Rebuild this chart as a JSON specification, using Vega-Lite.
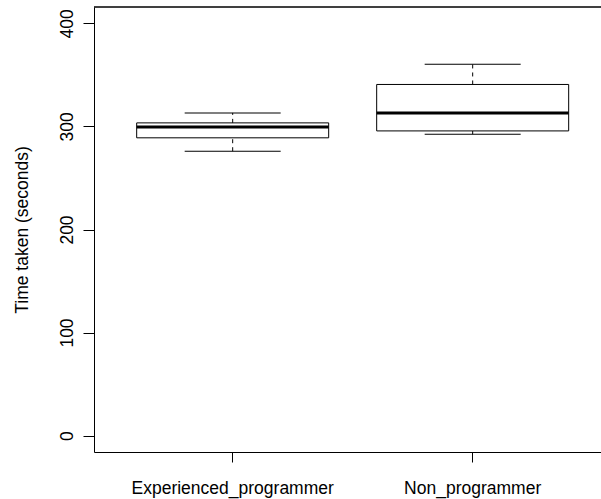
{
  "$schema": "https://vega.github.io/schema/vega-lite/v6.json",
  "width": 507,
  "height": 445,
  "autosize": {"type": "none"},
  "padding": {"left": 94, "top": 7, "right": 0, "bottom": 47},
  "background": "white",
  "config": {
    "view": {"stroke": null},
    "font": "Liberation Sans",
    "axis": {
      "labelFont": "Liberation Sans",
      "titleFont": "Liberation Sans",
      "labelFontSize": 17.5,
      "titleFontSize": 17.5,
      "labelColor": "black",
      "titleColor": "black",
      "titleFontWeight": "normal",
      "domainColor": "black",
      "tickColor": "black",
      "domainWidth": 1,
      "tickWidth": 1,
      "labelLimit": 0,
      "grid": false
    }
  },
  "data": {
    "values": [
      {"group": "Experienced_programmer", "lower": 276, "q1": 289, "median": 299.6, "q3": 303.5, "upper": 313.2},
      {"group": "Non_programmer", "lower": 292.5, "q1": 295.7, "median": 313, "q3": 340.8, "upper": 360.5}
    ]
  },
  "layer": [
    {
      "encoding": {
        "x": {
          "field": "group",
          "type": "nominal",
          "sort": null,
          "scale": {"type": "band", "paddingInner": 0.2, "paddingOuter": 0.15625, "align": 0.569},
          "axis": {
            "title": null,
            "labelAngle": 0,
            "tickSize": 10,
            "labelPadding": 31,
            "labelBaseline": "alphabetic",
            "domain": true
          }
        }
      },
      "layer": [
        {
          "mark": {"type": "rule", "color": "black", "strokeWidth": 1, "strokeDash": [4, 4]},
          "encoding": {
            "y": {
              "field": "lower",
              "type": "quantitative",
              "scale": {"domain": [-16, 416], "nice": false, "zero": false},
              "axis": {
                "title": "Time taken (seconds)",
                "values": [0, 100, 200, 300, 400],
                "tickSize": 11,
                "labelAngle": -90,
                "labelAlign": "center",
                "labelBaseline": "alphabetic",
                "labelPadding": 11,
                "titleAngle": -90,
                "titleBaseline": "alphabetic",
                "titleAlign": "center",
                "titleX": -67,
                "domain": true
              }
            },
            "y2": {"field": "q1"}
          }
        },
        {
          "mark": {"type": "rule", "color": "black", "strokeWidth": 1, "strokeDash": [4, 4]},
          "encoding": {
            "y": {"field": "q3", "type": "quantitative"},
            "y2": {"field": "upper"}
          }
        },
        {
          "mark": {"type": "tick", "color": "black", "opacity": 1, "size": 96, "thickness": 1},
          "encoding": {"y": {"field": "lower", "type": "quantitative"}}
        },
        {
          "mark": {"type": "tick", "color": "black", "opacity": 1, "size": 96, "thickness": 1},
          "encoding": {"y": {"field": "upper", "type": "quantitative"}}
        },
        {
          "mark": {"type": "bar", "fill": "white", "stroke": "black", "strokeWidth": 1, "opacity": 1},
          "encoding": {
            "y": {"field": "q1", "type": "quantitative"},
            "y2": {"field": "q3"}
          }
        },
        {
          "mark": {"type": "tick", "color": "black", "opacity": 1, "size": 192, "thickness": 3},
          "encoding": {"y": {"field": "median", "type": "quantitative"}}
        }
      ]
    },
    {
      "mark": {"type": "rule", "color": "black", "strokeWidth": 1},
      "encoding": {"y": {"datum": 416, "type": "quantitative"}}
    }
  ]
}
